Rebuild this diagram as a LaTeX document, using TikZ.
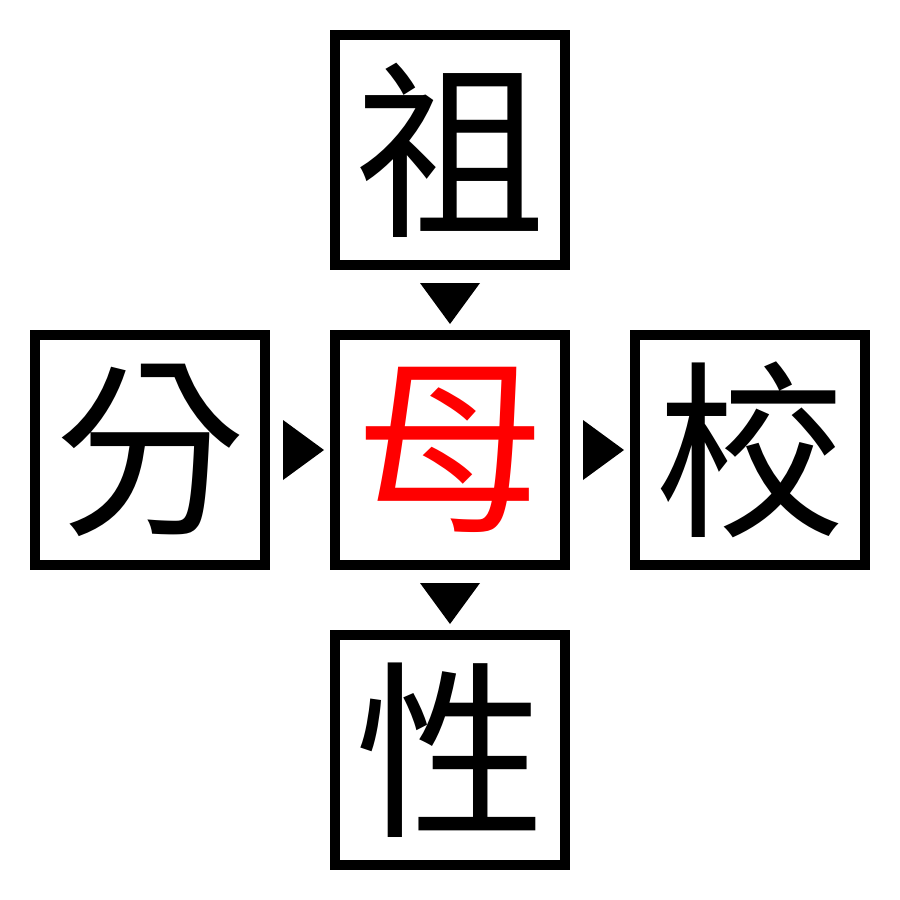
\documentclass[tikz,border=0pt]{standalone}
\usepackage{fontspec}
\newfontfamily\cjk{Noto Sans CJK TC}
\begin{document}
\begin{tikzpicture}[x=1pt,y=-1pt,
  cell/.style={draw=black,line width=10pt,minimum size=230pt,inner sep=0pt,
    font=\cjk\fontsize{190}{190}\selectfont},
  tri/.style={fill=black,draw=none}]
\useasboundingbox (0,0) rectangle (900,900);
\node[cell] (top) at (450,150) {祖};
\node[cell,text=red] (mid) at (450,450) {母};
\node[cell] (left) at (150,450) {分};
\node[cell] (right) at (750,450) {校};
\node[cell] (bot) at (450,750) {性};
\fill[tri] (420,283) -- (480,283) -- (450,324) -- cycle;
\fill[tri] (420,583) -- (480,583) -- (450,624) -- cycle;
\fill[tri] (283,420) -- (283,480) -- (324,450) -- cycle;
\fill[tri] (583,420) -- (583,480) -- (624,450) -- cycle;
\end{tikzpicture}
\end{document}
